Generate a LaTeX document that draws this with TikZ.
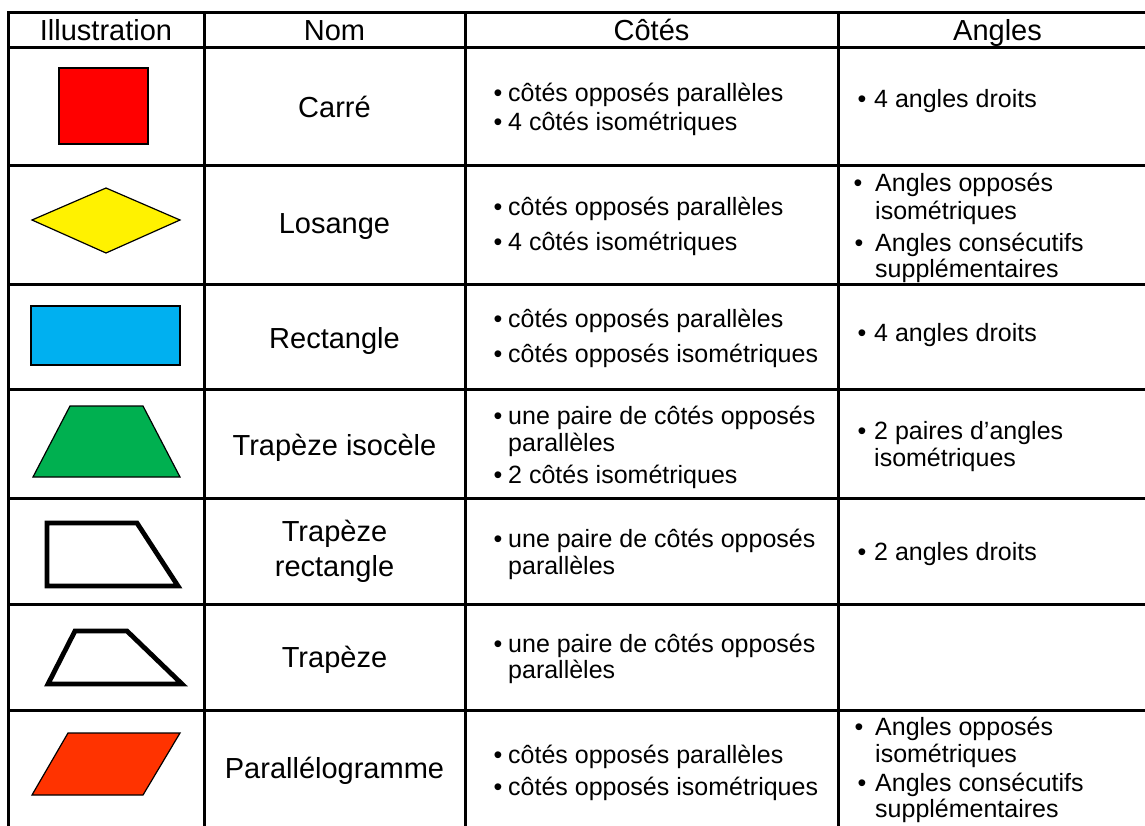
\documentclass[tikz,border=0pt]{standalone}
\usepackage{fontspec}
\setmainfont{Liberation Sans}
\definecolor{blueS}{HTML}{00B0F0}
\definecolor{greenS}{HTML}{00B050}
\definecolor{orangeS}{HTML}{FF3300}
\begin{document}
\begin{tikzpicture}[x=1pt,y=-1pt,
  grid/.style={line width=3pt},
  hd/.style={font=\fontsize{29}{34}\selectfont, anchor=base, inner sep=0pt},
  tx/.style={font=\fontsize{25}{30}\selectfont, anchor=base west, inner sep=0pt},
  bul/.style={font=\fontsize{25}{30}\selectfont, anchor=base, inner sep=0pt},
  thinline/.style={draw=black, line width=1.2pt},
  thickline/.style={draw=black, line width=4.8pt, line join=miter}]
\useasboundingbox (0,0) rectangle (1145,825);
\clip (0,0) rectangle (1145,825);
\fill[white] (0,0) rectangle (1145,825);
% grid
\draw[grid] (8,12) rectangle (1157,830);
\foreach \y in {47,165,284,389,498,604,710} \draw[grid] (8,\y) -- (1157,\y);
\foreach \x in {204,465,838} \draw[grid] (\x,12) -- (\x,830);
% headers
\node[hd] (h1) at (106,40) {Illustration};
\node[hd] (h2) at (334.5,40) {Nom};
\node[hd] (h3) at (651.5,40) {Côtés};
\node[hd] (h4) at (997.5,40) {Angles};
% shapes
\filldraw[fill=red, thinline] (59,68) rectangle (148,144);
\filldraw[fill=yellow, thinline] (32,220) -- (106,188) -- (180,220) -- (106,253) -- cycle;
\filldraw[fill=blueS, thinline] (31,306) rectangle (180,365);
\filldraw[fill=greenS, thinline] (33,477) -- (70,406) -- (143,406) -- (180,477) -- cycle;
\draw[thickline] (47,523) -- (137,523) -- (178,586) -- (47,586) -- cycle;
\draw[thickline] (48,684) -- (75,631) -- (127,631) -- (182,684) -- cycle;
\filldraw[fill=orangeS, thinline] (32,795) -- (68,733) -- (180,733) -- (143,795) -- cycle;
% names
\node[hd] (n1) at (334.5,117) {Carré};
\node[hd] (n2) at (334.5,233) {Losange};
\node[hd] (n3) at (334.5,348) {Rectangle};
\node[hd] (n4) at (334.5,455) {Trapèze isocèle};
\node[hd] (n5a) at (334.5,541) {Trapèze};
\node[hd] (n5b) at (334.5,576) {rectangle};
\node[hd] (n6) at (334.5,667) {Trapèze};
\node[hd] (n7) at (334.5,778) {Parallélogramme};
% cotes
\node[bul] (b1a) at (498,101) {•}; \node[tx] (c1a) at (508,101) {côtés opposés parallèles};
\node[bul] (b1b) at (498,130) {•}; \node[tx] (c1b) at (508,130) {4 côtés isométriques};
\node[bul] (b2a) at (498,215) {•}; \node[tx] (c2a) at (508,215) {côtés opposés parallèles};
\node[bul] (b2b) at (498,250) {•}; \node[tx] (c2b) at (508,250) {4 côtés isométriques};
\node[bul] (b3a) at (498,327) {•}; \node[tx] (c3a) at (508,327) {côtés opposés parallèles};
\node[bul] (b3b) at (498,362) {•}; \node[tx] (c3b) at (508,362) {côtés opposés isométriques};
\node[bul] (b4a) at (498,424) {•}; \node[tx] (c4a) at (508,424) {une paire de côtés opposés};
\node[tx] (c4b) at (508,451) {parallèles};
\node[bul] (b4c) at (498,483) {•}; \node[tx] (c4c) at (508,483) {2 côtés isométriques};
\node[bul] (b5a) at (498,547) {•}; \node[tx] (c5a) at (508,547) {une paire de côtés opposés};
\node[tx] (c5b) at (508,574) {parallèles};
\node[bul] (b6a) at (498,652) {•}; \node[tx] (c6a) at (508,652) {une paire de côtés opposés};
\node[tx] (c6b) at (508,678) {parallèles};
\node[bul] (b7a) at (498,763) {•}; \node[tx] (c7a) at (508,763) {côtés opposés parallèles};
\node[bul] (b7b) at (498,795) {•}; \node[tx] (c7b) at (508,795) {côtés opposés isométriques};
% angles
\node[bul] (d1a) at (862,107) {•}; \node[tx] (a1a) at (874,107) {4 angles droits};
\node[bul] (d2a) at (858,191) {•}; \node[tx] (a2a) at (875,191) {Angles opposés};
\node[tx] (a2b) at (875,219) {isométriques};
\node[bul] (d2c) at (859,251) {•}; \node[tx] (a2c) at (875,251) {Angles consécutifs};
\node[tx] (a2d) at (875,277) {supplémentaires};
\node[bul] (d3a) at (862,341) {•}; \node[tx] (a3a) at (874,341) {4 angles droits};
\node[bul] (d4a) at (862,439) {•}; \node[tx] (a4a) at (874,439) {2 paires d’angles};
\node[tx] (a4b) at (874,466) {isométriques};
\node[bul] (d5a) at (862,560) {•}; \node[tx] (a5a) at (874,560) {2 angles droits};
\node[bul] (d7a) at (859,735) {•}; \node[tx] (a7a) at (875,735) {Angles opposés};
\node[tx] (a7b) at (875,762) {isométriques};
\node[bul] (d7c) at (862,791) {•}; \node[tx] (a7c) at (875,791) {Angles consécutifs};
\node[tx] (a7d) at (875,817) {supplémentaires};
\end{tikzpicture}
\end{document}
